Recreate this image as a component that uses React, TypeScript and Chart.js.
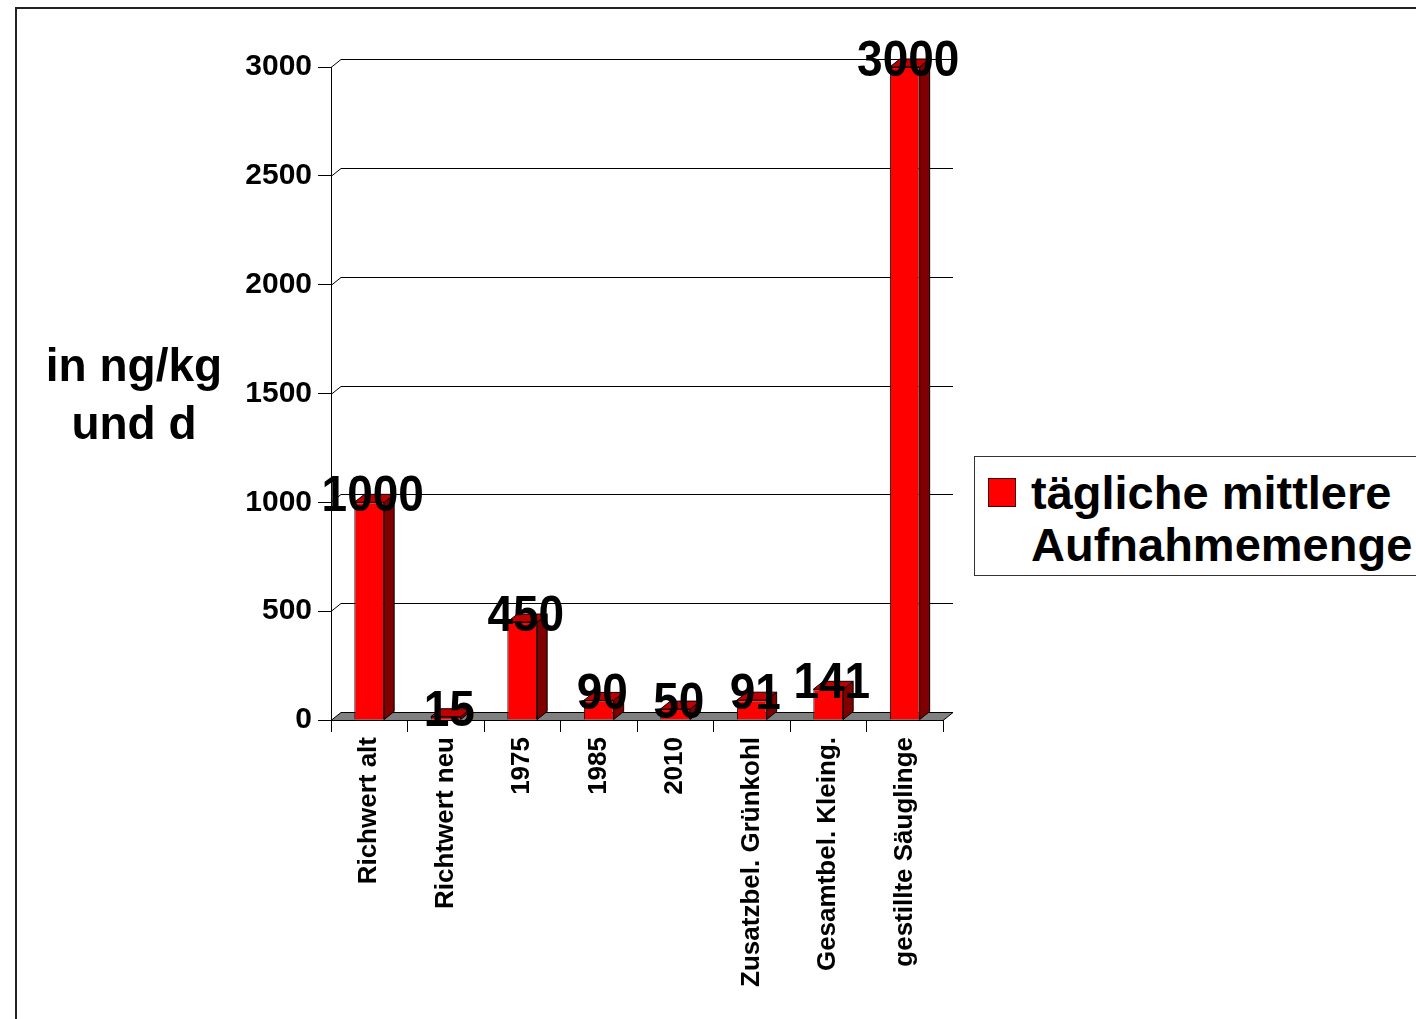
import { useEffect, useRef } from 'react'
import { Chart, registerables } from 'chart.js'

Chart.register(...registerables)

const categories = [
  'Richwert alt',
  'Richtwert neu',
  '1975',
  '1985',
  '2010',
  'Zusatzbel. Grünkohl',
  'Gesamtbel. Kleing.',
  'gestillte Säuglinge',
]
const intake = [1000, 15, 450, 90, 50, 91, 141, 3000]
const yTicks = [0, 500, 1000, 1500, 2000, 2500, 3000]

const FONT = "'Liberation Sans', Arial, sans-serif"
const DX = 10
const DY = 8

const threeD = {
  id: 'threeD',
  beforeDatasetsDraw(chart: Chart) {
    const { ctx, chartArea, scales } = chart
    const y = scales.y
    ctx.save()
    ctx.strokeStyle = '#000'
    ctx.lineWidth = 1
    // back wall grid lines
    yTicks.forEach((v) => {
      if (v === 0) return
      const py = Math.round(y.getPixelForValue(v)) + 0.5
      ctx.beginPath()
      ctx.moveTo(chartArea.left, py)
      ctx.lineTo(chartArea.left + DX, py - DY)
      ctx.lineTo(chartArea.right + DX, py - DY)
      ctx.stroke()
    })
    // floor
    const p0 = Math.round(y.getPixelForValue(0)) + 0.5
    ctx.beginPath()
    ctx.moveTo(chartArea.left, p0)
    ctx.lineTo(chartArea.right, p0)
    ctx.lineTo(chartArea.right + DX, p0 - DY)
    ctx.lineTo(chartArea.left + DX, p0 - DY)
    ctx.closePath()
    ctx.fillStyle = '#808080'
    ctx.fill()
    ctx.stroke()
    ctx.restore()
  },
  afterDatasetsDraw(chart: Chart) {
    const { ctx } = chart
    const meta = chart.getDatasetMeta(0)
    ctx.save()
    ctx.strokeStyle = '#000'
    ctx.lineWidth = 1
    meta.data.forEach((el: any, i: number) => {
      const { x, y, base, width } = el.getProps(['x', 'y', 'base', 'width'], true)
      const l = x - width / 2
      const r = x + width / 2
      // side face
      ctx.beginPath()
      ctx.moveTo(r, y)
      ctx.lineTo(r + DX, y - DY)
      ctx.lineTo(r + DX, base - DY)
      ctx.lineTo(r, base)
      ctx.closePath()
      ctx.fillStyle = '#800000'
      ctx.fill()
      ctx.stroke()
      // top face
      ctx.beginPath()
      ctx.moveTo(l, y)
      ctx.lineTo(l + DX, y - DY)
      ctx.lineTo(r + DX, y - DY)
      ctx.lineTo(r, y)
      ctx.closePath()
      ctx.fillStyle = '#c00000'
      ctx.fill()
      ctx.stroke()
      // value label
      ctx.save()
      ctx.translate(x + 3.5, y + 9)
      ctx.scale(0.92, 1)
      ctx.font = `bold 50px ${FONT}`
      ctx.textAlign = 'center'
      ctx.textBaseline = 'alphabetic'
      ctx.fillStyle = '#000'
      ctx.fillText(String(intake[i]), 0, 0)
      ctx.restore()
    })
    ctx.restore()
  },
}

export default function App() {
  const canvasRef = useRef<HTMLCanvasElement>(null)
  const chartRef = useRef<Chart | null>(null)

  useEffect(() => {
    if (!canvasRef.current) return
    chartRef.current?.destroy()
    Chart.defaults.font.family = FONT

    chartRef.current = new Chart(canvasRef.current, {
      type: 'bar',
      data: {
        labels: categories,
        datasets: [
          {
            label: 'tägliche mittlere Aufnahmemenge',
            data: intake,
            backgroundColor: '#ff0000',
            borderColor: '#000',
            borderWidth: 1,
            barPercentage: 0.39,
            categoryPercentage: 1,
          },
        ],
      },
      options: {
        animation: false,
        responsive: true,
        maintainAspectRatio: false,
        layout: { padding: { left: 0, top: 67, right: 473, bottom: 0 } },
        plugins: { legend: { display: false }, tooltip: { enabled: false } },
        scales: {
          x: {
            afterFit: (s: any) => { s.height = 299 },
            border: { display: true, color: '#000', width: 1 },
            grid: {
              display: true,
              drawOnChartArea: false,
              drawTicks: true,
              tickLength: 12,
              color: '#000',
              offset: true,
            },
            ticks: {
              autoSkip: false,
              minRotation: 90,
              maxRotation: 90,
              padding: 5,
              color: '#000',
              font: { size: 26, weight: 'bold', family: FONT },
            },
          },
          y: {
            min: 0,
            max: 3000,
            afterFit: (s: any) => { s.width = 331 },
            afterBuildTicks: (s: any) => { s.ticks = yTicks.map((v) => ({ value: v })) },
            border: { display: true, color: '#000', width: 1 },
            grid: {
              display: true,
              drawOnChartArea: false,
              drawTicks: true,
              tickLength: 13,
              color: '#000',
            },
            ticks: {
              padding: 6,
              color: '#000',
              font: { size: 30, weight: 'bold', family: FONT },
              callback: (v: any) => String(v),
            },
          },
        },
      },
      plugins: [threeD],
    })

    return () => { chartRef.current?.destroy() }
  }, [])

  return (
    <div
      style={{
        position: 'fixed',
        top: 0,
        left: 0,
        width: 1416,
        height: 1019,
        overflow: 'hidden',
        background: '#fff',
        fontFamily: FONT,
      }}
    >
      <div
        style={{
          position: 'absolute',
          left: 15,
          top: 7,
          width: 1500,
          height: 1100,
          border: '2px solid #222',
          boxSizing: 'border-box',
        }}
      />
      <canvas ref={canvasRef} style={{ position: 'absolute', left: 0, top: 0 }} />
      <div
        style={{
          position: 'absolute',
          left: 34,
          top: 336,
          width: 200,
          textAlign: 'center',
          fontWeight: 'bold',
          fontSize: 46,
          lineHeight: '58px',
          color: '#000',
        }}
      >
        in ng/kg
        <br />
        und d
      </div>
      <div
        style={{
          position: 'absolute',
          left: 974,
          top: 456,
          width: 500,
          height: 120,
          border: '1px solid #333',
          boxSizing: 'border-box',
          background: '#fff',
        }}
      >
        <div
          style={{
            position: 'absolute',
            left: 13,
            top: 21,
            width: 28,
            height: 29,
            background: '#ff0000',
            border: '1px solid #400',
            boxSizing: 'border-box',
          }}
        />
        <div
          style={{
            position: 'absolute',
            left: 56,
            top: 10,
            fontWeight: 'bold',
            fontSize: 47,
            lineHeight: '52px',
            color: '#000',
            whiteSpace: 'nowrap',
          }}
        >
          tägliche mittlere
          <br />
          Aufnahmemenge
        </div>
      </div>
    </div>
  )
}
